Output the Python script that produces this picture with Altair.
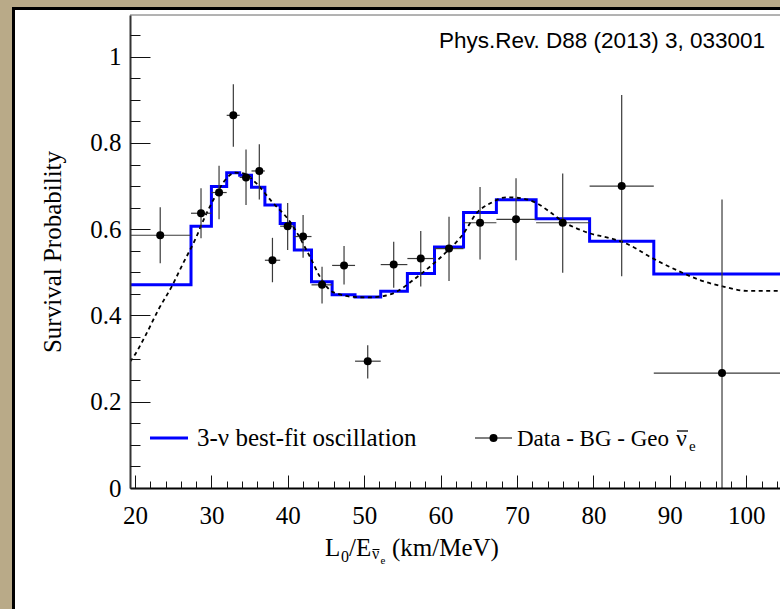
import altair as alt
import pandas as pd

# ---------------- data ----------------
bin_edges = [19.35, 27.33, 30.0, 32.0, 33.7, 35.25, 37.0, 39.0, 40.85, 43.1, 45.8,
             48.8, 52.16, 55.65, 59.2, 63.0, 67.3, 72.5, 79.5, 87.9, 105.8]
fit_values = [0.471, 0.607, 0.699, 0.731, 0.725, 0.697, 0.656, 0.613, 0.552, 0.478,
              0.448, 0.443, 0.456, 0.4975, 0.559, 0.639, 0.668, 0.624, 0.572, 0.496]

curve_x = [19.35, 19.57, 21.3, 23.05, 24.8, 26.3, 27.85, 29.16, 30.47, 31.8, 33.1, 34.3,
           35.9, 37.9, 40.3, 42.9, 44.2, 45.5, 46.8, 48.6, 50.5, 52.5, 54.25, 56.4,
           58.6, 60.8, 63.0, 64.7, 66.5, 68.65, 70.8, 72.6, 74.3, 76.06, 77.8, 79.6,
           82.2, 83.7, 85.5, 87.4, 90.9, 93.95, 97.0, 100.05, 104.42]
curve_y = [0.293, 0.298, 0.351, 0.413, 0.467, 0.521, 0.575, 0.629, 0.675, 0.714, 0.731, 0.729,
           0.706, 0.664, 0.617, 0.536, 0.490, 0.459, 0.449, 0.443, 0.442, 0.445, 0.455, 0.482,
           0.513, 0.548, 0.590, 0.637, 0.660, 0.674, 0.671, 0.660, 0.640, 0.617, 0.602, 0.590,
           0.579, 0.571, 0.556, 0.536, 0.505, 0.482, 0.467, 0.457, 0.457]

pt_x = [23.3, 28.64, 31.0, 32.87, 34.53, 36.27, 37.99, 39.98, 42.0, 44.48, 47.36,
        50.46, 53.86, 57.4, 61.1, 65.16, 69.87, 75.98, 83.7, 96.83]
pt_y = [0.586, 0.637, 0.685, 0.864, 0.720, 0.735, 0.528, 0.607, 0.583, 0.471, 0.516,
        0.294, 0.518, 0.532, 0.555, 0.615, 0.623, 0.615, 0.700, 0.2665]
pt_ylo = [0.521, 0.579, 0.623, 0.791, 0.656, 0.669, 0.477, 0.552, 0.534, 0.428, 0.472,
          0.254, 0.464, 0.467, 0.480, 0.530, 0.528, 0.499, 0.491, 0.0]
pt_yhi = [0.651, 0.695, 0.747, 0.936, 0.785, 0.797, 0.580, 0.661, 0.633, 0.513, 0.561,
          0.331, 0.571, 0.596, 0.629, 0.698, 0.718, 0.729, 0.911, 0.669]

x_major = [20, 30, 40, 50, 60, 70, 80, 90, 100]
x_minor = [22, 24, 26, 28, 32, 34, 36, 38, 42, 44, 46, 48, 52, 54, 56, 58, 62, 64, 66, 68,
           72, 74, 76, 78, 82, 84, 86, 88, 92, 94, 96, 98, 102, 104]
y_major = [0, 0.2, 0.4, 0.6, 0.8, 1]
y_minor = [0.05, 0.1, 0.15, 0.25, 0.3, 0.35, 0.45, 0.5, 0.55, 0.65, 0.7, 0.75,
           0.85, 0.9, 0.95, 1.05]

# ---------------- tables ----------------
step_df = pd.DataFrame({"x": bin_edges, "y": fit_values + [fit_values[-1]]})
curve_df = pd.DataFrame({"x": curve_x, "y": curve_y})
pts_df = pd.DataFrame({"x": pt_x, "y": pt_y, "ylo": pt_ylo, "yhi": pt_yhi,
                       "xlo": bin_edges[:-1], "xhi": bin_edges[1:]})
one = pd.DataFrame({"a": [0]})

# ---------------- geometry ----------------
OX, OY = 130, 15          # plot origin in the page
W, H = 650, 473
XDOM = [19.345, 104.42]
YDOM = [0, 1.0966]
SERIF = "Liberation Serif"
SANS = "Liberation Sans"

xs = alt.Scale(domain=XDOM, nice=False, zero=False)
ys = alt.Scale(domain=YDOM, nice=False, zero=False)

ax_x_lab = alt.Axis(orient="bottom", values=x_major, format="d", ticks=False, domain=True,
                    domainColor="black", domainWidth=2, labelFont=SERIF, labelFontSize=25,
                    labelColor="black", labelPadding=15, labelFlush=False, grid=False,
                    title=None, zindex=1)
ax_x_maj = alt.Axis(orient="top", offset=-H, values=x_major, ticks=True, tickSize=13,
                    tickColor="#111", tickWidth=1, labels=False, domain=False, grid=False,
                    title=None, zindex=1)
ax_x_min = alt.Axis(orient="top", offset=-H, values=x_minor, ticks=True, tickSize=7,
                    tickColor="#111", tickWidth=1, labels=False, domain=False, grid=False,
                    title=None, zindex=1)

ax_y_lab = alt.Axis(orient="left", values=y_major, format="~g", ticks=False, domain=True,
                    domainColor="#333", domainWidth=2, labelFont=SERIF, labelFontSize=25,
                    labelColor="black", labelPadding=9, labelFlush=False, grid=False,
                    title="Survival Probability", titleFont=SERIF, titleFontSize=25,
                    titleFontWeight="normal", titleColor="black", titleAngle=270,
                    titleX=-70, titleY=H / 2, titleAlign="center",
                    titleBaseline="alphabetic", zindex=1)
ax_y_maj = alt.Axis(orient="right", offset=-W, values=y_major, ticks=True, tickSize=20,
                    tickColor="#111", tickWidth=1, labels=False, domain=False, grid=False,
                    title=None, zindex=1)
ax_y_min = alt.Axis(orient="right", offset=-W, values=y_minor, ticks=True, tickSize=10,
                    tickColor="#111", tickWidth=1, labels=False, domain=False, grid=False,
                    title=None, zindex=1)

# ---------------- layers ----------------
panel = alt.Chart(one).mark_rect(fill="white", stroke="black", strokeWidth=3).encode(
    x=alt.value(13.5 - OX), x2=alt.value(1000), y=alt.value(8.5 - OY), y2=alt.value(900))

step = alt.Chart(step_df).mark_line(interpolate="step-after", color="#0000ff",
                                    strokeWidth=3, clip=True, strokeJoin="miter").encode(
    x=alt.X("x:Q", scale=xs, axis=ax_x_lab),
    y=alt.Y("y:Q", scale=ys, axis=ax_y_lab))

curve = alt.Chart(curve_df).mark_line(interpolate="monotone", color="black",
                                      strokeWidth=1.8, strokeDash=[4, 3.5], clip=True).encode(
    x=alt.X("x:Q", scale=xs, axis=ax_x_maj),
    y=alt.Y("y:Q", scale=ys, axis=ax_y_maj))

hbars = alt.Chart(pts_df).mark_rule(color="#3a3a3a", strokeWidth=1.2, clip=True).encode(
    x=alt.X("xlo:Q", scale=xs, axis=ax_x_min), x2="xhi:Q",
    y=alt.Y("y:Q", scale=ys, axis=ax_y_min))

vbars = alt.Chart(pts_df).mark_rule(color="#3a3a3a", strokeWidth=1.2, clip=True).encode(
    x=alt.X("x:Q", scale=xs, axis=None),
    y=alt.Y("ylo:Q", scale=ys, axis=None), y2="yhi:Q")

points = alt.Chart(pts_df).mark_circle(size=64, color="black", opacity=1).encode(
    x=alt.X("x:Q", scale=xs, axis=None),
    y=alt.Y("y:Q", scale=ys, axis=None))

topline = alt.Chart(one).mark_rule(color="#666", strokeWidth=1).encode(
    x=alt.value(0), x2=alt.value(W), y=alt.value(0))


def txt(s, x, y, size, font=SERIF, align="left"):
    return alt.Chart(one).mark_text(text=s, font=font, fontSize=size, align=align,
                                    baseline="alphabetic", color="black").encode(
        x=alt.value(x - OX), y=alt.value(y - OY))


def bar(x1, x2, y, width=1.2):
    return alt.Chart(one).mark_rule(color="black", strokeWidth=width).encode(
        x=alt.value(x1 - OX), x2=alt.value(x2 - OX), y=alt.value(y - OY))


header = txt("Phys.Rev. D88 (2013) 3, 033001", 765, 48, 22.5, font=SANS, align="right")

xtitle = [
    txt("L", 325, 556, 25),
    txt("0", 341, 562, 16),
    txt("/E", 349, 556, 25),
    txt("\u03bd", 372, 559, 16),
    bar(372.5, 379.5, 549.5, 1),
    txt("e", 380.5, 564, 11),
    txt("(km/MeV)", 392, 556, 25),
]

leg_line1 = alt.Chart(one).mark_rule(color="#0000ff", strokeWidth=3).encode(
    x=alt.value(150 - OX), x2=alt.value(188 - OX), y=alt.value(438 - OY))
leg_text1 = txt("3-\u03bd best-fit oscillation", 197, 446, 25)
leg_line2 = alt.Chart(one).mark_rule(color="black", strokeWidth=1).encode(
    x=alt.value(475 - OX), x2=alt.value(512 - OX), y=alt.value(438 - OY))
leg_pt2 = alt.Chart(one).mark_circle(size=64, color="black", opacity=1).encode(
    x=alt.value(493.5 - OX), y=alt.value(438 - OY))
leg_text2 = txt("Data - BG - Geo", 517, 446, 23)
leg_nu2 = txt("\u03bd", 676, 446, 24)
leg_bar2 = bar(677, 688, 431, 1.3)
leg_sub2 = txt("e", 689, 451, 15)

chart = alt.layer(
    panel, step, curve, hbars, vbars, points, topline, header, *xtitle,
    leg_line1, leg_text1, leg_line2, leg_pt2, leg_text2, leg_nu2, leg_bar2, leg_sub2
).resolve_axis(x="independent", y="independent").properties(
    width=W, height=H, autosize="none",
    padding={"left": OX, "top": OY, "right": 780 - OX - W, "bottom": 609 - OY - H},
).configure(background="#b9aa88").configure_view(stroke=None)

chart.save("out.html", embed_options={"renderer": "svg", "actions": False})
